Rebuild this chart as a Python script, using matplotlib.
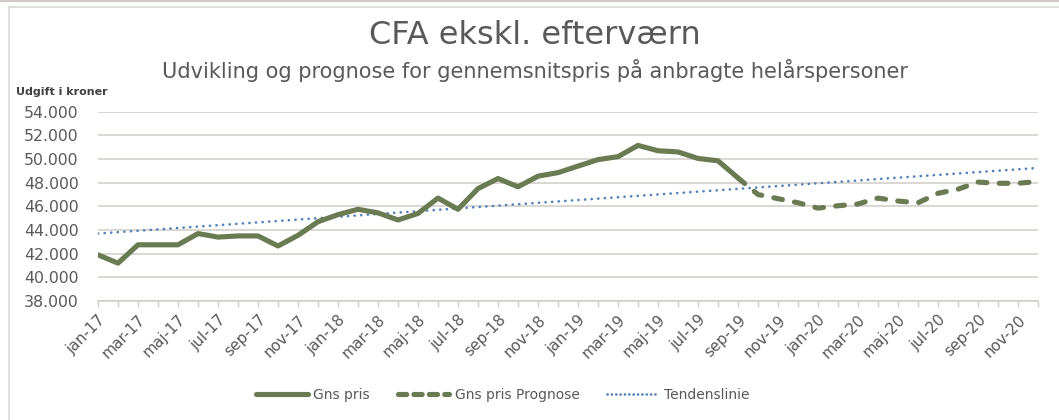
import matplotlib
matplotlib.use("Agg")
import matplotlib.pyplot as plt
from matplotlib.lines import Line2D

# ---------------- data ----------------
months = ["jan", "feb", "mar", "apr", "maj", "jun", "jul", "aug", "sep", "okt", "nov", "dec"]
years = ["17", "18", "19", "20"]
categories = [f"{m}-{y}" for y in years for m in months]  # jan-17 .. dec-20

actual_values = [41900, 41200, 42750, 42750, 42750, 43700, 43400, 43500, 43500, 42650,
                 43550, 44700, 45300, 45750, 45450, 44850, 45400, 46700, 45750, 47500,
                 48350, 47650, 48550, 48850, 49400, 49950, 50200, 51150, 50700, 50600,
                 50050, 49850, 48400]  # jan-17 .. sep-19

forecast_start = "sep-19"
forecast_values = [48400, 47000, 46650, 46300, 45850, 46050, 46200, 46700, 46450, 46300,
                   47100, 47450, 48050, 47950, 47950, 48100]  # sep-19 .. dec-20

trend_categories = ["jan-17", "dec-20"]
trend_values = [43700, 49250]

yticks = [38000, 40000, 42000, 44000, 46000, 48000, 50000, 52000, 54000]
ytick_labels = ["38.000", "40.000", "42.000", "44.000", "46.000", "48.000", "50.000", "52.000", "54.000"]

title = "CFA ekskl. efterværn"
subtitle = "Udvikling og prognose for gennemsnitspris på anbragte helårspersoner"
ylabel = "Udgift i kroner"
legend_labels = ["Gns pris", "Gns pris Prognose", "Tendenslinie"]

# ---------------- style ----------------
plt.rcParams["font.family"] = ["DejaVu Sans"]
TXT = "#595959"
GREEN = "#6b7b51"
BLUE = "#4f80ba"
GRID = "#d4cfcb"

W, H = 1059, 420
fig = plt.figure(figsize=(W / 100, H / 100), dpi=100)

left, right, top, bottom = 98, 1038, 111.7, 301
ax = fig.add_axes([left / W, 1 - bottom / H, (right - left) / W, (bottom - top) / H])

idx = {c: i for i, c in enumerate(categories)}
x_act = list(range(len(actual_values)))
x0 = idx[forecast_start]
x_fc = list(range(x0, x0 + len(forecast_values)))
x_tr = [idx[c] for c in trend_categories]

ax.plot(x_tr, trend_values, color=BLUE, lw=1.9, linestyle=(0, (0.05, 2.45)),
        dash_capstyle="round", zorder=3)
ax.plot(x_act, actual_values, color=GREEN, lw=3.7, solid_capstyle="round",
        solid_joinstyle="round", zorder=4)
ax.plot(x_fc, forecast_values, color=GREEN, lw=3.7, linestyle=(0, (1.7, 2.4)),
        dash_capstyle="round", dash_joinstyle="round", zorder=4)

ax.set_xlim(0, len(categories) - 1)
ax.set_ylim(yticks[0], yticks[-1])
ax.set_yticks(yticks)
ax.set_yticklabels(ytick_labels)
ax.yaxis.grid(True, color=GRID, lw=1.2)
ax.set_axisbelow(True)

ax.set_xticks(range(len(categories)))
ax.set_xticklabels([c if i % 2 == 0 else "" for i, c in enumerate(categories)],
                   rotation=45, ha="right", va="top", rotation_mode="anchor")
ax.tick_params(axis="x", length=4, width=1, colors=GRID, labelcolor=TXT, labelsize=11, pad=4)
ax.tick_params(axis="y", length=0, labelsize=11.3, labelcolor=TXT, pad=14)

for s in ["left", "right", "top"]:
    ax.spines[s].set_visible(False)
ax.spines["bottom"].set_color(GRID)
ax.spines["bottom"].set_linewidth(1.2)

# titles
fig.text(0.505, 1 - 36 / H, title, ha="center", va="center", fontsize=23, color=TXT)
fig.text(0.505, 1 - 70 / H, subtitle, ha="center", va="center", fontsize=15, color=TXT)
fig.text(16 / W, 1 - 92 / H, ylabel, ha="left", va="center", fontsize=8,
         fontweight="bold", color="#404040")

# legend
handles = [
    Line2D([], [], color=GREEN, lw=3.7, solid_capstyle="round"),
    Line2D([], [], color=GREEN, lw=3.7, linestyle=(0, (1.6, 1.4)), dash_capstyle="round"),
    Line2D([], [], color=BLUE, lw=1.9, linestyle=(0, (0.05, 1.6)), dash_capstyle="round"),
]
leg = fig.legend(handles, legend_labels, loc="center", bbox_to_anchor=(503 / W, 1 - 395 / H),
                 ncol=3, frameon=False, fontsize=10, handlelength=3.7, handletextpad=0.4,
                 columnspacing=2.0, labelcolor=TXT)

# chart border
fig.add_artist(Line2D([0, 1], [1 - 1 / H, 1 - 1 / H], transform=fig.transFigure, color="#d0cbc7", lw=1.5))
fig.add_artist(Line2D([9 / W, 1], [1 - 7 / H, 1 - 7 / H], transform=fig.transFigure, color="#d9d9d9", lw=1.2))
fig.add_artist(Line2D([9 / W, 9 / W], [0, 1 - 7 / H], transform=fig.transFigure, color="#d9d9d9", lw=1.2))

fig.savefig("out.png", dpi=100, facecolor="white")
